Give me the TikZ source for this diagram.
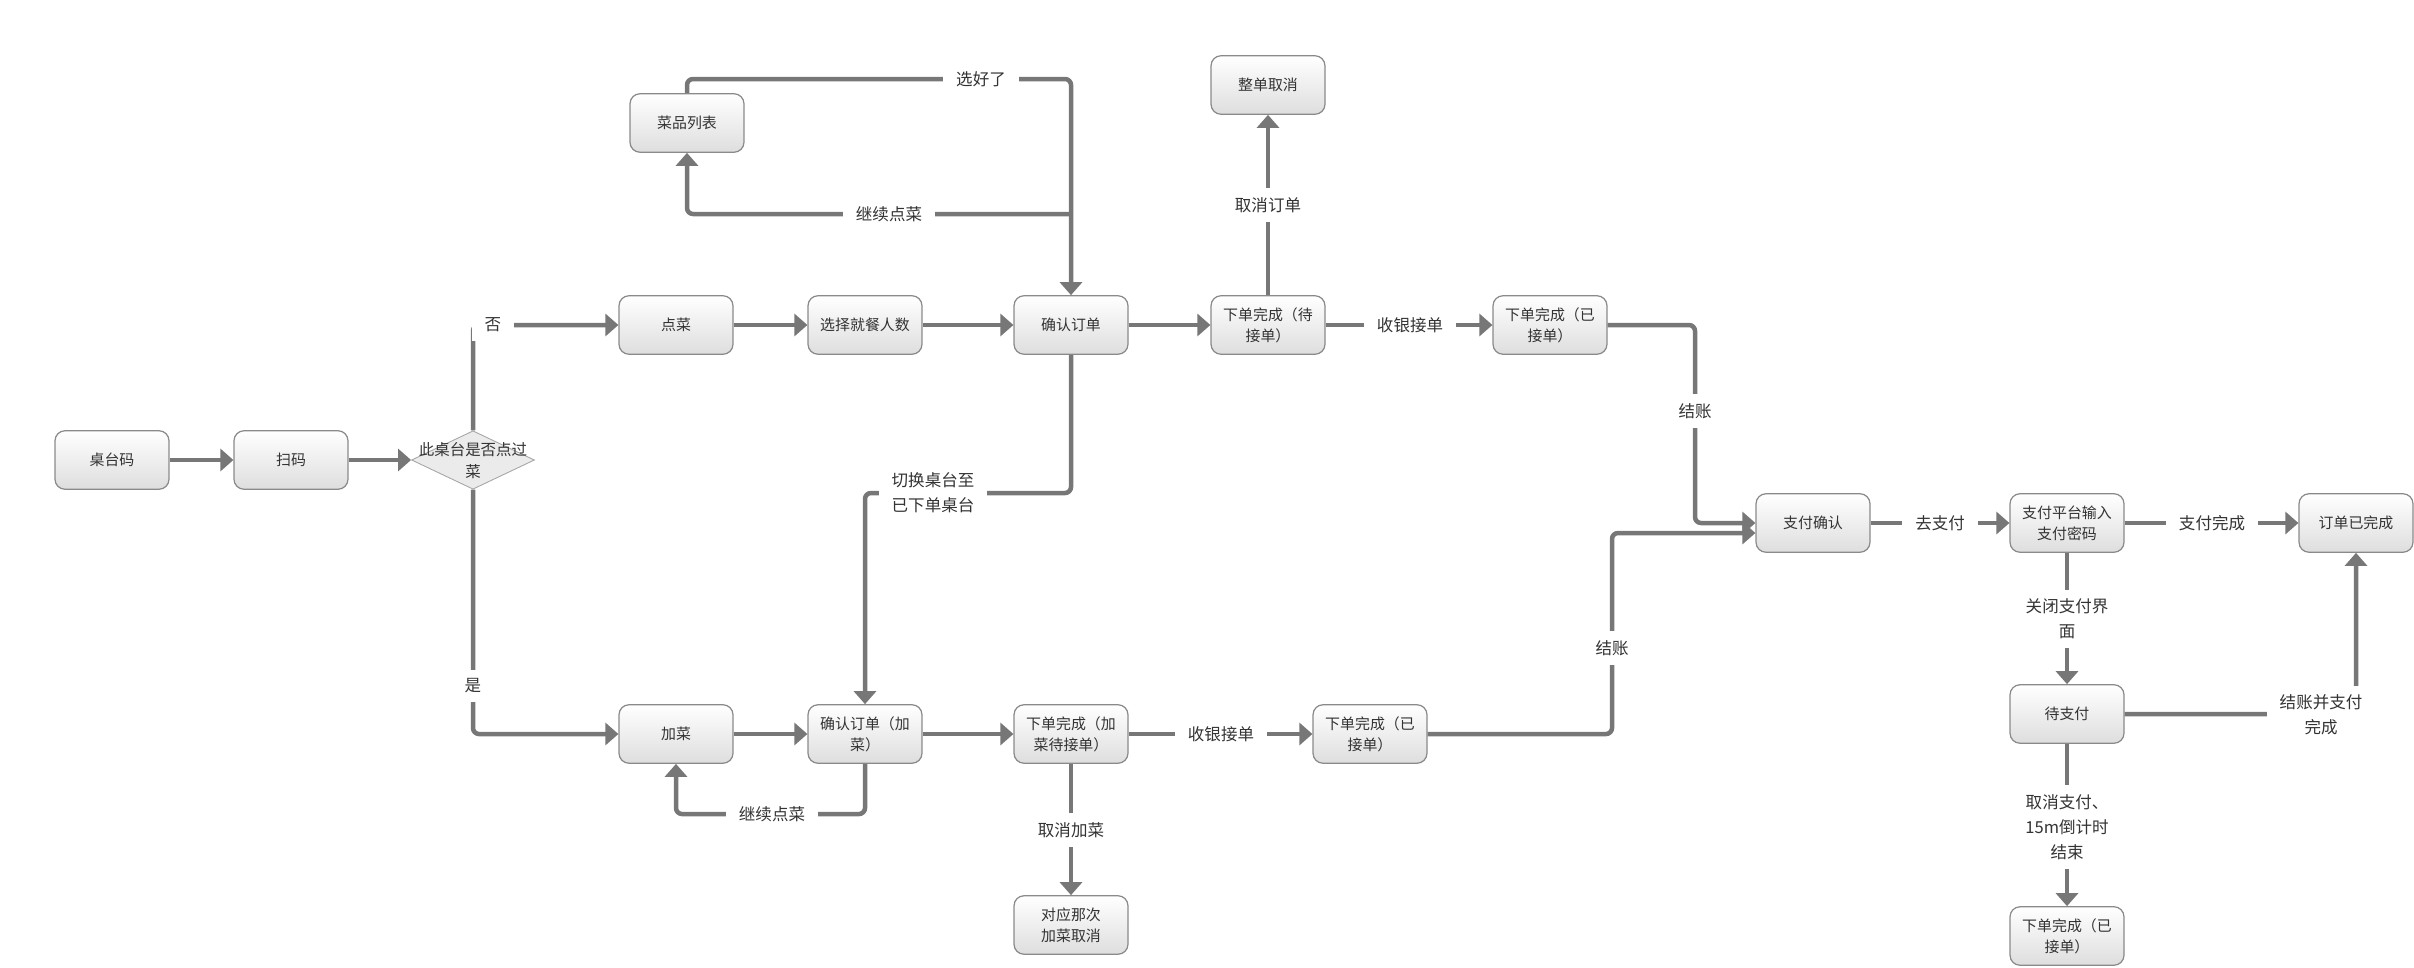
\documentclass[tikz,border=0pt]{standalone}
\usepackage{fontspec}
\setmainfont{Noto Sans CJK SC}
\usetikzlibrary{arrows.meta,shapes.geometric}
\definecolor{lncol}{HTML}{777777}
\definecolor{txcol}{HTML}{333333}
\definecolor{bdcol}{HTML}{8A8A8A}
\begin{document}
\begin{tikzpicture}[x=0.02cm,y=-0.02cm,
  box/.style={draw=bdcol, line width=0.7pt, rounded corners=0.2cm, top color=white, bottom color=black!13,
    minimum width=2.28cm, minimum height=1.17cm, inner sep=0pt, align=center, text=txcol,
    font=\fontsize{8.5}{11.9}\selectfont},
  conn/.style={draw=lncol, line width=0.09cm, rounded corners=0.12cm, -{Triangle[length=0.26cm,width=0.44cm]}},
  plainln/.style={draw=lncol, line width=0.09cm, rounded corners=0.12cm},
  lbl/.style={fill=white, text=txcol, align=center, inner xsep=0.26cm, inner ysep=0.18cm,
    font=\fontsize{9.4}{14.2}\selectfont}]
\useasboundingbox (0,0) rectangle (2414,967);
% nodes
\node[box] (zt) at (112,460) {桌台码};
\node[box] (sm) at (291,460) {扫码};
\node[diamond, draw=black!35, fill=black!8, line width=0.5pt, minimum width=2.46cm, minimum height=1.17cm, inner sep=0pt] (dec) at (473,460) {};
\node[text=txcol, align=center, font=\fontsize{8.8}{12.5}\selectfont] (dectxt) at (473,461) {此桌台是否点过\\菜};
\node[box] (dc) at (676,325) {点菜};
\node[box] (rs) at (865,325) {选择就餐人数};
\node[box] (qr) at (1071,325) {确认订单};
\node[box] (dd) at (1268,325) {下单完成（待\\接单）};
\node[box] (yj1) at (1550,325) {下单完成（已\\接单）};
\node[box] (cp) at (687,123) {菜品列表};
\node[box] (qx) at (1268,85) {整单取消};
\node[box] (zf) at (1813,523) {支付确认};
\node[box] (pt) at (2067,523) {支付平台输入\\支付密码};
\node[box] (wc) at (2356,523) {订单已完成};
\node[box] (dz) at (2067,714) {待支付};
\node[box] (yj3) at (2067,936) {下单完成（已\\接单）};
\node[box] (jc) at (676,734) {加菜};
\node[box] (qrj) at (865,734) {确认订单（加\\菜）};
\node[box] (ddj) at (1071,734) {下单完成（加\\菜待接单）};
\node[box] (yj2) at (1370,734) {下单完成（已\\接单）};
\node[box] (dy) at (1071,925) {对应那次\\加菜取消};
% helper coordinates
\coordinate (ytop) at (0,79);
\coordinate (ymid) at (0,214);
\coordinate (sw) at (933,493);
\coordinate (c16) at (772,814);
\coordinate (k18) at (1612,533);
\coordinate (k19) at (1695,523);
\path (zf.west) ++(0,10) coordinate (zin2);
\coordinate (j1) at (qr.north |- ymid);
% connectors
\draw[conn] (zt.east) -- (sm.west);
\draw[conn] (sm.east) -- (dec.west);
\draw[conn] (dec.north) |- (dc.west);
\draw[conn] (dec.south) |- (jc.west);
\draw[conn] (dc.east) -- (rs.west);
\draw[conn] (rs.east) -- (qr.west);
\draw[conn] (qr.east) -- (dd.west);
\draw[conn] (dd.east) -- (yj1.west);
\draw[conn] (dd.north) -- (qx.south);
\draw[conn] (cp.north) |- (qr.north |- ytop) -- (qr.north);
\draw[conn] (j1) -| (cp.south);
\draw[conn] (qr.south) |- (sw) -| (qrj.north);
\draw[conn] (jc.east) -- (qrj.west);
\draw[conn] (qrj.east) -- (ddj.west);
\draw[conn] (ddj.east) -- (yj2.west);
\draw[conn] (qrj.south) |- (c16) -| (jc.south);
\draw[conn] (ddj.south) -- (dy.north);
\draw[conn] (yj2.east) -| (k18) -- (zin2);
\draw[conn] (yj1.east) -| (k19) -- (zf.west);
\draw[conn] (zf.east) -- (pt.west);
\draw[conn] (pt.east) -- (wc.west);
\draw[conn] (pt.south) -- (dz.north);
\draw[conn] (dz.east) -| (wc.south);
\draw[conn] (dz.south) -- (yj3.north);
% labels
\node[lbl] (l1) at (493,325) {否};
\node[lbl] (l2) at (473,686) {是};
\node[lbl] (l3) at (981,79) {选好了};
\node[lbl] (l4) at (889,214) {继续点菜};
\node[lbl] (l5) at (1268,205) {取消订单};
\node[lbl] (l6) at (1410,325) {收银接单};
\node[lbl] (l7) at (1695,411) {结账};
\node[lbl] (l8) at (933,493) {切换桌台至\\已下单桌台};
\node[lbl] (l9) at (772,814) {继续点菜};
\node[lbl] (l10) at (1071,830) {取消加菜};
\node[lbl] (l11) at (1221,734) {收银接单};
\node[lbl] (l12) at (1612,648) {结账};
\node[lbl] (l13) at (1940,523) {去支付};
\node[lbl] (l14) at (2212,523) {支付完成};
\node[lbl] (l15) at (2067,619) {关闭支付界\\面};
\node[lbl] (l16) at (2321,715) {结账并支付\\完成};
\node[lbl] (l17) at (2067,827) {取消支付、\\15m倒计时\\结束};
\end{tikzpicture}
\end{document}
